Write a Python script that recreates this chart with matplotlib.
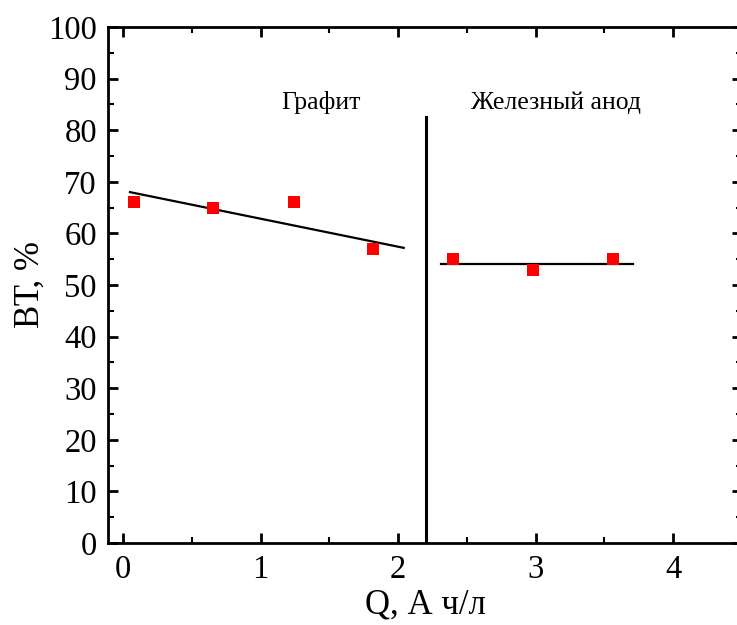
import numpy as np
import matplotlib.pyplot as plt
from matplotlib.ticker import MultipleLocator

# Data
q_graphite = [0.08, 0.65, 1.24, 1.82]
bt_graphite = [66, 65, 66, 57]
q_iron = [2.40, 2.98, 3.56]
bt_iron = [55, 53, 55]

# trend lines (end points)
fit_graphite_q = [0.05, 2.04]
fit_graphite_bt = [68.0, 57.2]
fit_iron_q = [2.31, 3.71]
fit_iron_bt = [54.1, 54.1]

# separator between the two anode types
sep_q = 2.2
sep_top = 82.5

plt.rcParams['font.family'] = ['Liberation Serif', 'DejaVu Serif']

fig = plt.figure(figsize=(7.37, 6.25), dpi=100)
ax = fig.add_axes([108 / 737, 1 - 543 / 625, (742 - 108) / 737, (543 - 27) / 625])

ax.plot(fit_graphite_q, fit_graphite_bt, color='black', lw=1.6)
ax.plot(fit_iron_q, fit_iron_bt, color='black', lw=1.6)
ax.plot([sep_q, sep_q], [0, sep_top], color='black', lw=2.2)

ax.plot(q_graphite, bt_graphite, 's', color='#ff0000', ms=8.5, mew=0)
ax.plot(q_iron, bt_iron, 's', color='#ff0000', ms=8.5, mew=0)

ax.text(1.44, 85.3, 'Графит', fontsize=18.5, ha='center', va='center')
ax.text(3.15, 85.3, 'Железный анод', fontsize=18.5, ha='center', va='center')

ax.set_xlim(-0.11, 4.5)
ax.set_ylim(0, 100)
ax.xaxis.set_major_locator(MultipleLocator(1))
ax.xaxis.set_minor_locator(MultipleLocator(0.5))
ax.yaxis.set_major_locator(MultipleLocator(10))
ax.yaxis.set_minor_locator(MultipleLocator(5))
ax.tick_params(which='both', direction='in', top=True, right=True,
               labelsize=23.5, width=2, pad=8)
ax.tick_params(which='major', length=7)
ax.tick_params(which='minor', length=4, width=1.5)
for s in ax.spines.values():
    s.set_linewidth(2)

ax.set_xlabel('Q, А ч/л', fontsize=25, labelpad=3)
ax.set_ylabel('ВТ, %', fontsize=25, labelpad=1)

fig.savefig('out.png', dpi=100)
